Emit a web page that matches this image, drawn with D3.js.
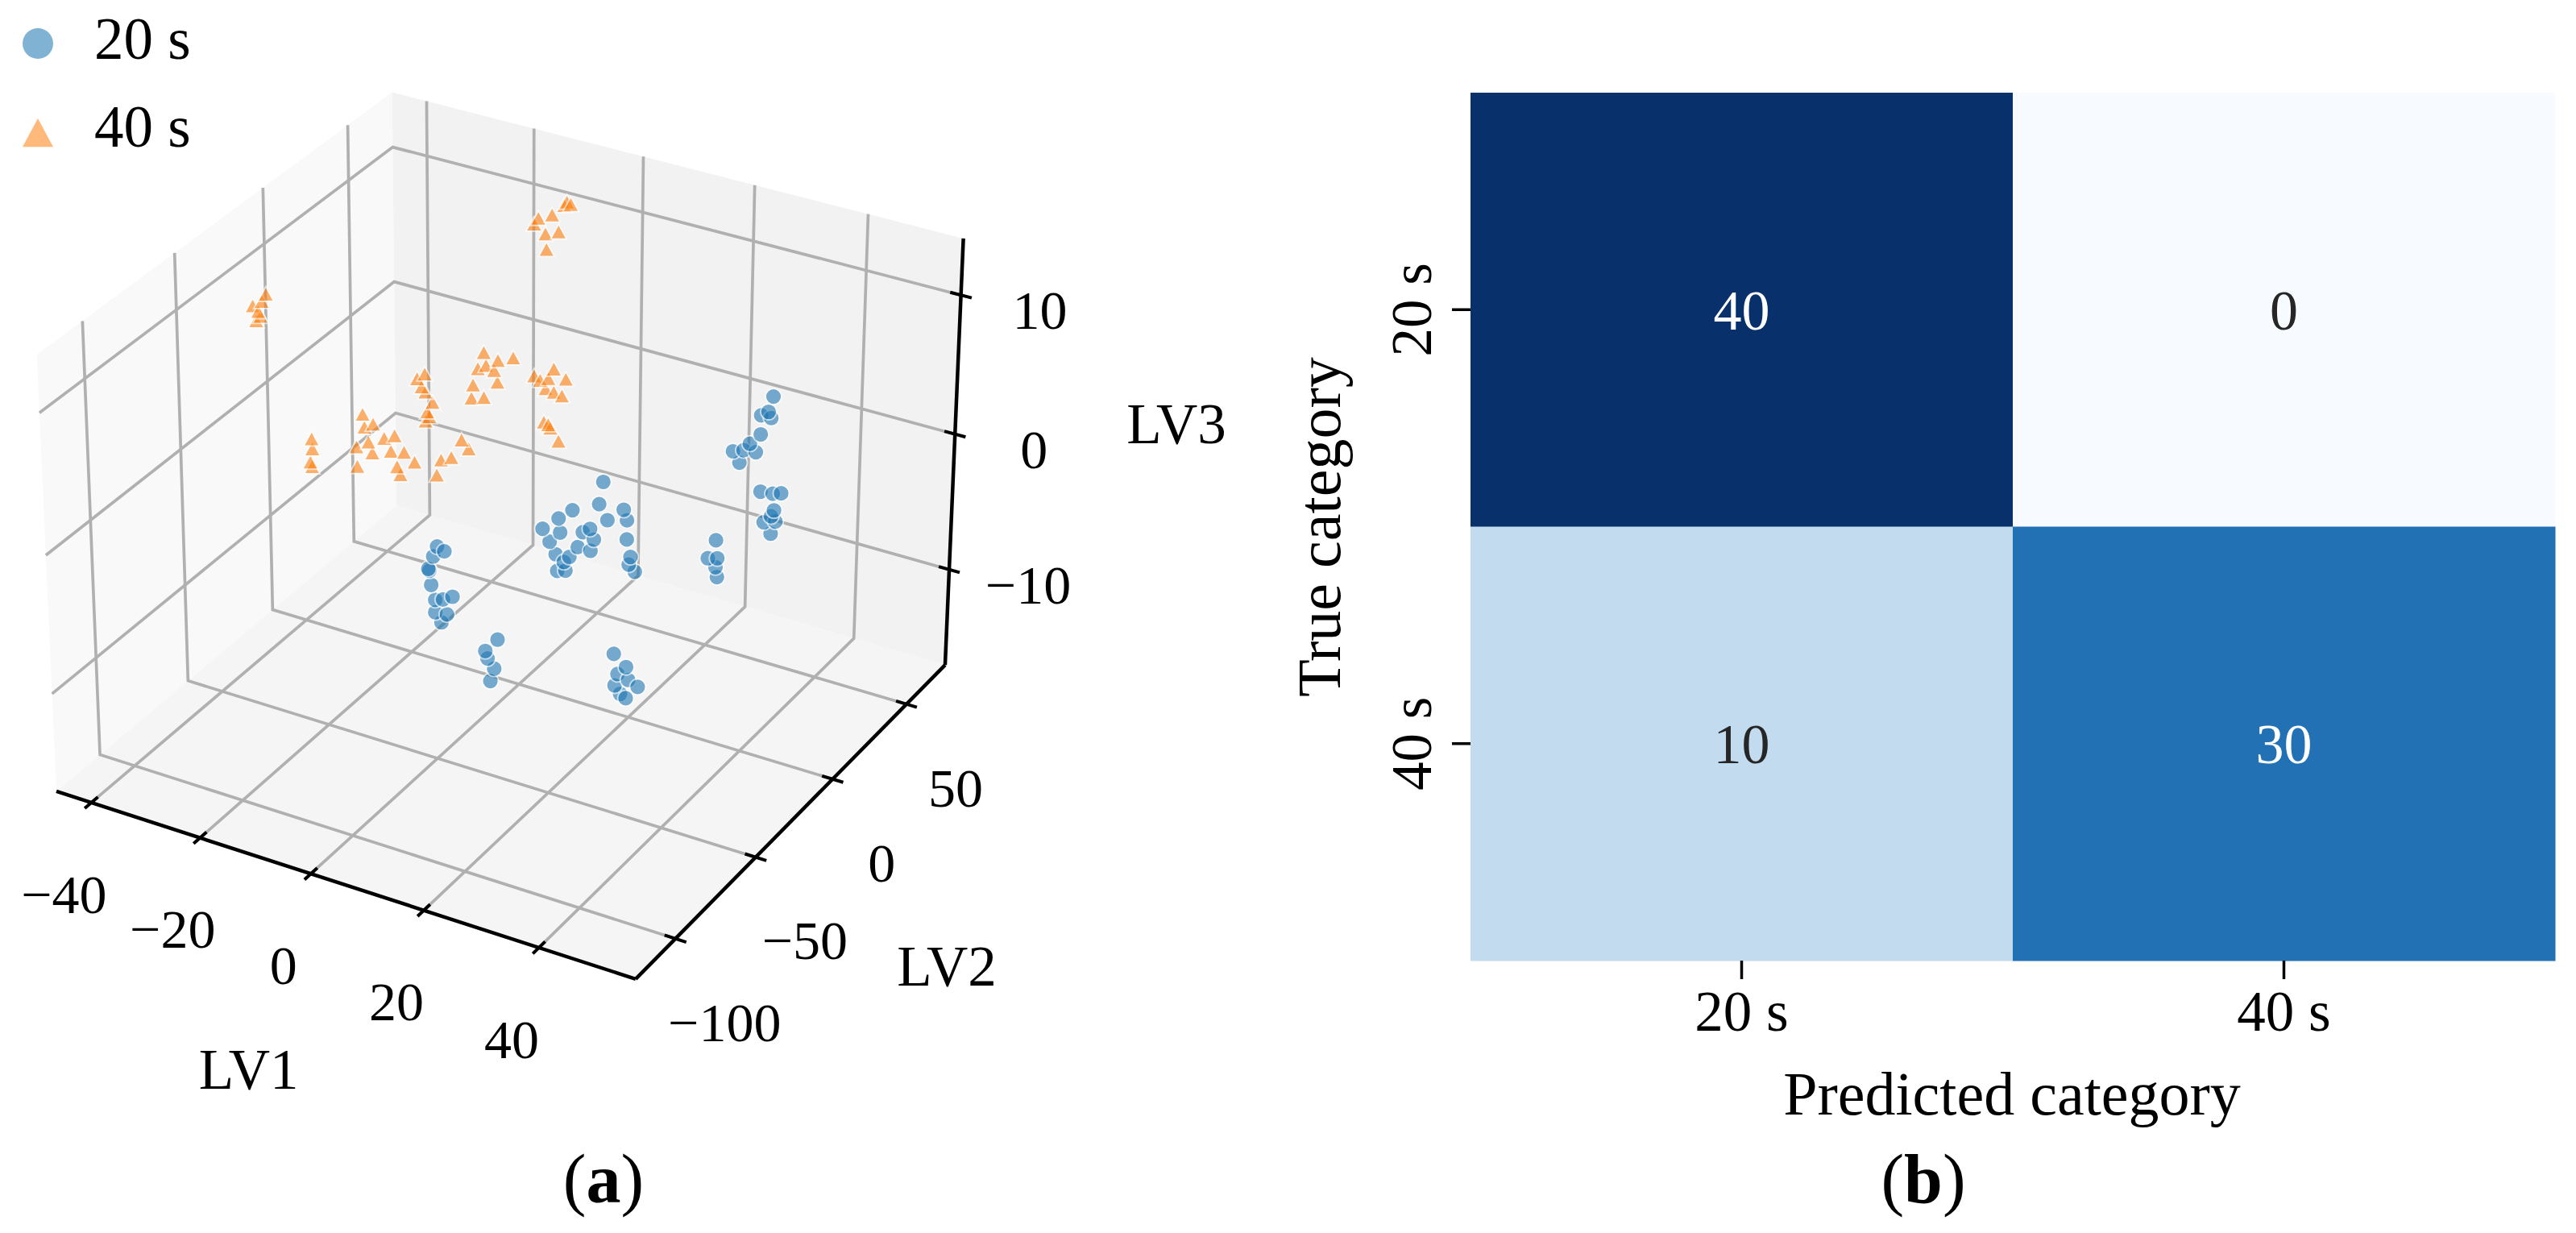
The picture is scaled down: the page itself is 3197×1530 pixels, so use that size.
<!DOCTYPE html>
<html>
<head>
<meta charset="utf-8">
<script src="https://cdn.jsdelivr.net/npm/d3@7"></script>
<style>
body { margin: 0; background: #fff; }
text { font-family: "Liberation Serif", "Times New Roman", serif; fill: #000; }
</style>
</head>
<body>
<div id="chart"></div>
<script>
// PLS-DA scores, [LV1, LV2, LV3]
var scores20 = [
  [29.5,57.0,1.7],[28.7,57.0,0.5],[27.4,57.0,0.1],[29.2,57.0,0.1],[27.4,57.0,-1.3],
  [25.5,57.0,-2.2],[22.5,57.0,-3.1],[24.4,57.0,-2.8],[26.6,57.0,-2.7],[23.7,57.0,-3.8],
  [27.6,57.0,-5.5],[29.8,57.0,-5.4],[31.3,57.0,-5.2],[30.1,57.0,-6.6],[29.6,57.0,-7.1],
  [28.3,57.0,-7.7],[30.4,57.0,-7.4],[29.6,57.0,-8.4],
  [25.2,36.8,-7.3],[23.8,36.8,-8.8],[25.5,36.8,-8.6],[25.2,36.8,-9.3],[25.5,36.8,-10.0],
  [13.2,6.7,-1.3],[7.7,6.7,-4.0],[12.5,6.7,-3.0],[16.9,6.7,-2.9],[14.0,6.7,-4.0],
  [5.2,6.7,-4.9],[17.5,6.7,-3.6],[2.3,6.7,-6.0],[5.5,6.7,-5.9],[10.9,6.7,-5.0],
  [9.6,6.7,-5.4],[11.6,6.7,-5.7],[17.5,6.7,-5.0],[3.6,6.7,-6.8],[8.7,6.7,-6.6],
  [11.0,6.7,-6.6],[4.7,6.7,-7.6],[7.2,6.7,-7.5],[18.2,6.7,-6.2],[6.2,6.7,-8.0],
  [17.9,6.7,-6.8],[5.0,6.7,-8.8],[6.5,6.7,-8.6],[19.0,6.7,-7.2],
  [1.3,-53.7,-1.1],[2.6,-53.7,-1.3],[0.6,-53.7,-1.9],[-0.3,-53.7,-2.9],[-0.1,-53.7,-3.0],
  [0.2,-53.7,-4.0],[0.9,-53.7,-5.0],[2.3,-53.7,-4.8],[4.0,-53.7,-4.4],[0.9,-53.7,-5.9],
  [3.0,-53.7,-5.8],[2.0,-53.7,-6.5],
  [9.0,-43.6,-8.0],[6.8,-43.6,-9.1],[7.2,-43.6,-9.6],[8.4,-43.6,-10.2],[7.7,-43.6,-11.2],
  [23.9,-23.5,-9.4],[26.1,-23.5,-10.1],[24.6,-23.5,-10.8],[26.5,-23.5,-11.0],
  [24.1,-23.5,-11.7],[28.2,-23.5,-11.3],[25.1,-23.5,-12.2],[26.1,-23.5,-12.4]
]
var scores40 = [
  [-8.1,57.0,11.7],[-7.4,57.0,11.6],[-8.6,57.0,11.4],[-13.3,57.0,10.0],[-10.8,57.0,10.5],
  [-14.1,57.0,9.5],[-12.0,57.0,9.0],[-9.6,57.0,9.4],[-11.8,57.0,7.9],
  [-38.7,-23.5,9.4],[-39.5,-23.5,8.8],[-41.2,-23.5,8.3],[-40.2,-23.5,8.0],[-39.8,-23.5,7.7],
  [-40.6,-23.5,7.3],
  [-16.1,-3.4,4.2],[-17.5,-3.4,3.7],[-16.7,-3.4,3.2],[-16.0,-3.4,2.9],[-14.7,-3.4,2.3],
  [-15.7,-3.4,1.5],[-15.3,-3.4,1.2],[-16.0,-3.4,0.8],
  [-14.4,26.8,3.0],[-11.8,26.8,2.7],[-9.0,26.8,3.2],[-15.5,26.8,1.7],[-14.0,26.8,2.1],
  [-12.5,26.8,1.9],[-16.4,26.8,0.4],[-11.9,26.8,1.1],[-16.7,26.8,-0.6],[-14.4,26.8,-0.3],
  [-4.5,36.8,1.9],[-8.1,36.8,1.0],[-7.0,36.8,0.8],[-5.5,36.8,1.1],[-2.3,36.8,1.4],
  [-6.0,36.8,0.3],[-3.0,36.8,0.1],[-4.5,36.8,0.2],
  [-6.3,36.8,-2.2],[-5.1,36.8,-2.5],[-3.6,36.8,-3.3],[-5.5,36.8,-2.3],
  [-24.3,-43.6,2.6],[-24.2,-43.6,1.9],[-24.6,-43.6,0.9],[-24.3,-43.6,0.6],
  [-21.3,-23.5,2.7],[-21.0,-23.5,1.8],[-19.4,-23.5,2.2],[-22.5,-23.5,0.2],[-20.3,-23.5,0.8],
  [-19.6,-23.5,0.1],[-17.4,-23.5,1.4],[-15.5,-23.5,1.8],[-16.2,-23.5,0.6],[-13.8,-23.5,0.8],
  [-11.9,-23.5,0.3],[-22.4,-23.5,-1.2],[-15.1,-23.5,-0.4],[-14.5,-23.5,-0.9],
  [-12.5,6.7,-1.2],[-11.2,6.7,-1.7],[-14.4,6.7,-2.7],[-16.3,6.7,-3.1],[-17.1,6.7,-4.3]
]
var classes = ["20 s", "40 s"]
var lv1Lim = [-46.5, 56.5], lv2Lim = [-124, 77], lv3Lim = [-17.2, 14]
var lv1Ticks = [-40, -20, 0, 20, 40]
var lv2Ticks = [-100, -50, 0, 50]
var lv3Ticks = [-10, 0, 10]
// confusion matrix, rows = true, cols = predicted
var confusion = [[40, 0], [10, 30]]

var W = 3197, H = 1530
var svg = d3.select("#chart").append("svg").attr("width", W).attr("height", H)
svg.append("rect").attr("width", W).attr("height", H).style("fill", "#fff")

// ---------- (a) 3D scatter ----------
var azim = -60*Math.PI/180, elev = 30*Math.PI/180, camDist = 18
var cx = 631, cy = 640, k = 412
var nx = d3.scaleLinear().domain(lv1Lim).range([-1, 1])
var ny = d3.scaleLinear().domain(lv2Lim).range([-1, 1])
var nz = d3.scaleLinear().domain(lv3Lim).range([-0.75, 0.75])
var rv = [-Math.sin(azim), Math.cos(azim), 0]
var uv = [-Math.sin(elev)*Math.cos(azim), -Math.sin(elev)*Math.sin(azim), Math.cos(elev)]
var vv = [Math.cos(elev)*Math.cos(azim), Math.cos(elev)*Math.sin(azim), Math.sin(elev)]
function project(p) {
  var P = [nx(p[0]), ny(p[1]), nz(p[2])]
  var dot = function(a) { return a[0]*P[0] + a[1]*P[1] + a[2]*P[2] }
  var f = camDist/(camDist - dot(vv))
  return [cx + k*f*dot(rv), cy - k*f*dot(uv), dot(vv)]
}
var line = d3.line()
function pathOf(pts, closed) {
  return line(pts.map(function(p) { var q = project(p); return [q[0], q[1]] })) + (closed ? "Z" : "")
}

var x0 = lv1Lim[0], x1 = lv1Lim[1], y0 = lv2Lim[0], y1 = lv2Lim[1], z0 = lv3Lim[0], z1 = lv3Lim[1]
var g3 = svg.append("g").attr("id", "scatter3d")

var panes = [
  {c: "#f9f9f9", pts: [[x0,y0,z0],[x0,y1,z0],[x0,y1,z1],[x0,y0,z1]]},
  {c: "#f2f2f2", pts: [[x0,y1,z0],[x1,y1,z0],[x1,y1,z1],[x0,y1,z1]]},
  {c: "#f5f5f5", pts: [[x0,y0,z0],[x1,y0,z0],[x1,y1,z0],[x0,y1,z0]]}
]
g3.selectAll(".pane").data(panes).enter().append("path")
  .attr("class", "pane")
  .attr("d", function(d) { return pathOf(d.pts, true) })
  .style("fill", function(d) { return d.c }).style("stroke", "none")

var grid = []
lv1Ticks.forEach(function(t) { grid.push([[t,y0,z0],[t,y1,z0],[t,y1,z1]]) })
lv2Ticks.forEach(function(t) { grid.push([[x1,t,z0],[x0,t,z0],[x0,t,z1]]) })
lv3Ticks.forEach(function(t) { grid.push([[x0,y0,t],[x0,y1,t],[x1,y1,t]]) })
g3.selectAll(".grid").data(grid).enter().append("path")
  .attr("class", "grid")
  .attr("d", function(d) { return pathOf(d) })
  .style("fill", "none").style("stroke", "#b0b0b0").style("stroke-width", 3.7)

var axes = [[[x0,y0,z0],[x1,y0,z0]], [[x1,y0,z0],[x1,y1,z0]], [[x1,y1,z0],[x1,y1,z1]]]
g3.selectAll(".axisline").data(axes).enter().append("path")
  .attr("class", "axisline")
  .attr("d", function(d) { return pathOf(d) })
  .style("fill", "none").style("stroke", "#000").style("stroke-width", 4.5)

var dx = (x1 - x0)*0.018, dy = (y1 - y0)*0.018
var fmt = function(v) { return v < 0 ? "\u2212" + Math.abs(v) : "" + v }
var tickSets = [
  {ticks: lv1Ticks, at: function(t) { return [t,y0,z0] }, seg: function(t) { return [[t,y0+dy,z0],[t,y0-dy,z0]] }, off: [-34, 113]},
  {ticks: lv2Ticks, at: function(t) { return [x1,t,z0] }, seg: function(t) { return [[x1-dx,t,z0],[x1+dx,t,z0]] }, off: [61, 103]},
  {ticks: lv3Ticks, at: function(t) { return [x1,y1,t] }, seg: function(t) { return [[x1-dx,y1,t],[x1+dx,y1,t]] }, off: [98, 18]}
]
tickSets.forEach(function(s) {
  g3.append("g").selectAll("path").data(s.ticks).enter().append("path")
    .attr("d", function(t) { return pathOf(s.seg(t)) })
    .style("stroke", "#000").style("stroke-width", 4)
  g3.append("g").selectAll("text").data(s.ticks).enter().append("text")
    .attr("x", function(t) { return project(s.at(t))[0] + s.off[0] })
    .attr("y", function(t) { return project(s.at(t))[1] + s.off[1] })
    .attr("dy", "0.35em").attr("text-anchor", "middle")
    .style("font-size", "68px")
    .text(fmt)
})

var axisLabels = [
  {name: "LV1", mid: [(x0+x1)/2, y0, z0], off: [-112, 231]},
  {name: "LV2", mid: [x1, (y0+y1)/2, z0], off: [186, 186]},
  {name: "LV3", mid: [x1, y1, (z0+z1)/2], off: [276, -41]}
]
g3.selectAll(".axlabel").data(axisLabels).enter().append("text")
  .attr("class", "axlabel")
  .attr("x", function(d) { return project(d.mid)[0] + d.off[0] })
  .attr("y", function(d) { return project(d.mid)[1] + d.off[1] })
  .attr("dy", "0.35em").attr("text-anchor", "middle")
  .style("font-size", "71px")
  .text(function(d) { return d.name })

var colors = {"20 s": "#1f77b4", "40 s": "#ff7f0e"}
var pts = scores20.map(function(p) { return {cls: "20 s", p: p} })
  .concat(scores40.map(function(p) { return {cls: "40 s", p: p} }))
pts.forEach(function(d) { d.q = project(d.p) })
pts.sort(function(a, b) { return a.q[2] - b.q[2] })
var tri = function(s) { return "M0," + (-s) + "L" + (-s) + "," + (s*0.85) + "L" + s + "," + (s*0.85) + "Z" }
g3.append("g").selectAll("path").data(pts).enter().append("path")
  .attr("transform", function(d) { return "translate(" + d.q[0] + "," + d.q[1] + ")" })
  .attr("d", function(d) { return d.cls == "20 s" ? d3.symbol(d3.symbolCircle, Math.PI*10*10)() : tri(10) })
  .style("fill", function(d) { return colors[d.cls] })
  .style("stroke", "#fff").style("stroke-width", 1.8)
  .style("opacity", 0.6)

// legend
var leg = svg.append("g").attr("id", "legend")
leg.append("circle").attr("cx", 47).attr("cy", 54).attr("r", 19)
  .style("fill", colors["20 s"]).style("opacity", 0.57)
leg.append("path").attr("transform", "translate(47,166)").attr("d", tri(19))
  .style("fill", colors["40 s"]).style("opacity", 0.55)
leg.selectAll("text").data(classes).enter().append("text")
  .attr("x", 117).attr("y", function(d, i) { return i == 0 ? 73 : 182 })
  .style("font-size", "73px")
  .text(function(d) { return d })

// ---------- (b) confusion matrix ----------
var hx = d3.scaleBand().domain(classes).range([1825, 3171])
var hy = d3.scaleBand().domain(classes).range([115, 1192])
var blues = d3.scaleSequential(d3.interpolateBlues).domain([0, 40])
var cells = []
confusion.forEach(function(row, i) {
  row.forEach(function(v, j) { cells.push({t: classes[i], p: classes[j], v: v}) })
})
var gh = svg.append("g").attr("id", "heatmap")
gh.selectAll("rect").data(cells).enter().append("rect")
  .attr("x", function(d) { return hx(d.p) }).attr("y", function(d) { return hy(d.t) })
  .attr("width", hx.bandwidth() + 0.5).attr("height", hy.bandwidth() + 0.5)
  .style("fill", function(d) { return blues(d.v) })
gh.selectAll(".annot").data(cells).enter().append("text")
  .attr("class", "annot")
  .attr("x", function(d) { return hx(d.p) + hx.bandwidth()/2 })
  .attr("y", function(d) { return hy(d.t) + hy.bandwidth()/2 })
  .attr("dy", "0.35em").attr("text-anchor", "middle")
  .style("font-size", "70px")
  .style("fill", function(d) { return d3.hsl(blues(d.v)).l > 0.55 ? "#262626" : "#fff" })
  .text(function(d) { return d.v })

var xAxis = d3.axisBottom(hx).tickSize(23).tickPadding(14)
var gx = gh.append("g").attr("transform", "translate(0,1192)").call(xAxis)
var yAxis = d3.axisLeft(hy).tickSize(23)
var gy = gh.append("g").attr("transform", "translate(1825,0)").call(yAxis)
;[gx, gy].forEach(function(g) {
  g.select(".domain").remove()
  g.selectAll(".tick line").style("stroke", "#000").style("stroke-width", 3.5)
  g.selectAll(".tick text").style("font-size", "71px").style("fill", "#000")
    .style("font-family", "'Liberation Serif', serif")
})
gx.selectAll(".tick text").attr("dy", "0.71em")
gy.selectAll(".tick text")
  .attr("x", 0).attr("dy", 0)
  .attr("text-anchor", "middle")
  .attr("transform", "translate(-49,0) rotate(-90)")

gh.append("text").attr("x", 2497).attr("y", 1383).attr("text-anchor", "middle")
  .style("font-size", "76px").text("Predicted category")
gh.append("text").attr("transform", "translate(1663,654) rotate(-90)").attr("text-anchor", "middle")
  .style("font-size", "76px").text("True category")

// panel captions
var caps = [{l: "a", x: 749}, {l: "b", x: 2387}]
caps.forEach(function(c) {
  var t = svg.append("text").attr("x", c.x).attr("y", 1492).attr("text-anchor", "middle").style("font-size", "86px")
  t.append("tspan").text("(")
  t.append("tspan").style("font-weight", "bold").text(c.l)
  t.append("tspan").text(")")
})
</script>
</body>
</html>
